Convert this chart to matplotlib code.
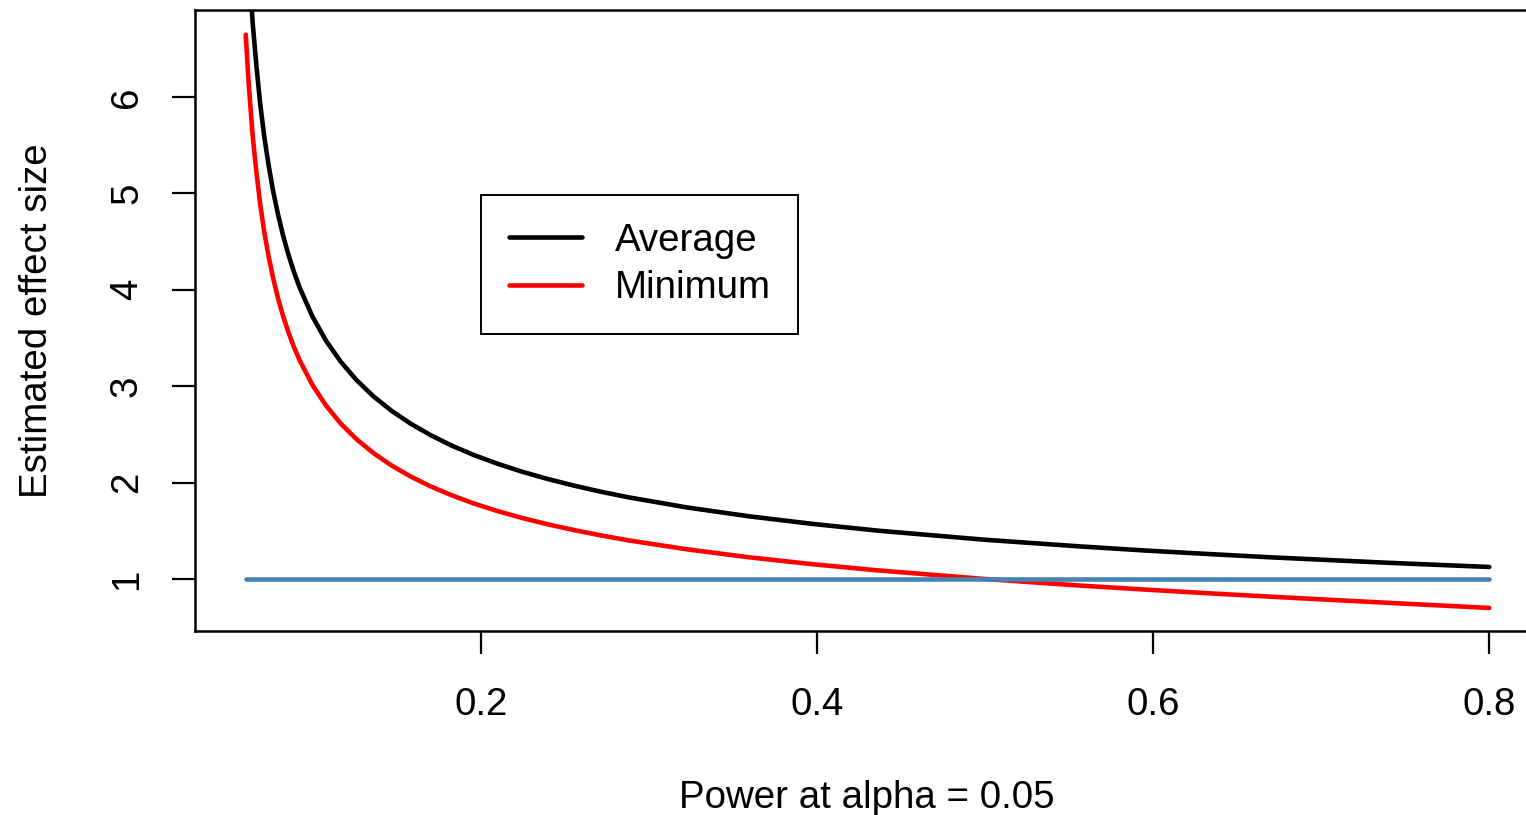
import matplotlib
matplotlib.use("Agg")
import matplotlib.pyplot as plt

# power at alpha = 0.05 and the two effect-size curves
power = [0.0600, 0.0611, 0.0618, 0.0641, 0.0663, 0.0685, 0.0709, 0.0735,
         0.0762, 0.0791, 0.0821, 0.0853, 0.0886, 0.0921, 0.0996, 0.1077,
         0.1165, 0.1259, 0.1360, 0.1467, 0.1581, 0.1701, 0.1827, 0.1960,
         0.2099, 0.2244, 0.2395, 0.2552, 0.2714, 0.2881, 0.3230, 0.3596,
         0.3976, 0.4365, 0.5000, 0.5557, 0.5948, 0.6331, 0.6700, 0.7054,
         0.7389, 0.7704, 0.8000]
average = [8.004, 7.624, 7.391, 6.770, 6.329, 5.943, 5.603, 5.301,
           5.031, 4.788, 4.569, 4.369, 4.188, 4.021, 3.725, 3.473,
           3.254, 3.063, 2.894, 2.745, 2.611, 2.491, 2.382, 2.284,
           2.195, 2.113, 2.038, 1.969, 1.905, 1.846, 1.741, 1.650,
           1.571, 1.501, 1.407, 1.339, 1.296, 1.259, 1.225, 1.196,
           1.169, 1.146, 1.125]
minimum = [6.644, 6.323, 6.125, 5.600, 5.227, 4.900, 4.612, 4.356,
           4.126, 3.920, 3.733, 3.564, 3.409, 3.267, 3.015, 2.800,
           2.613, 2.450, 2.306, 2.178, 2.063, 1.960, 1.867, 1.782,
           1.704, 1.633, 1.568, 1.508, 1.452, 1.400, 1.307, 1.225,
           1.153, 1.089, 1.000, 0.933, 0.891, 0.852, 0.817, 0.784,
           0.754, 0.726, 0.700]
true_effect = [1.0, 1.0]
true_x = [0.06, 0.80]

xticks = [0.2, 0.4, 0.6, 0.8]
yticks = [1, 2, 3, 4, 5, 6]

plt.rcParams['font.family'] = ['Liberation Sans', 'DejaVu Sans']
FS = 27.7

W, H = 1526, 815
fig = plt.figure(figsize=(W / 100, H / 100), dpi=100)
# axes box runs off the right edge of the picture, as in the reference
ax = fig.add_axes([195 / W, (H - 631) / H, (1539 - 195) / W, 621 / H])

ax.plot(power, average, color='black', lw=3.3, solid_capstyle='round',
        solid_joinstyle='round', label='Average')
ax.plot(power, minimum, color='red', lw=3.3, solid_capstyle='round',
        solid_joinstyle='round', label='Minimum')
ax.plot(true_x, true_effect, color='steelblue', lw=3.3, solid_capstyle='round')

ax.set_xlim(0.0298, 0.8296)
ax.set_ylim(0.461, 6.90)
ax.set_xticks(xticks)
ax.set_xticklabels([str(t) for t in xticks])
ax.set_yticks(yticks)
ax.set_yticklabels([str(t) for t in yticks], rotation=90, va='center')

ax.tick_params(axis='both', length=16.5, width=1.6, labelsize=FS, direction='out')
ax.tick_params(axis='x', pad=23.5)
ax.tick_params(axis='y', pad=19.5)
for s in ax.spines.values():
    s.set_linewidth(1.8)

ax.set_xlabel("Power at alpha = 0.05", fontsize=FS, labelpad=41)
ax.set_ylabel("Estimated effect size", fontsize=FS, labelpad=39)

leg = ax.legend(loc='upper left', bbox_to_anchor=(481 / W, 1 - 195 / H),
                bbox_transform=fig.transFigure, borderaxespad=0,
                fontsize=FS, frameon=True, fancybox=False, framealpha=1,
                edgecolor='black', handlelength=1.9, handletextpad=0.85,
                borderpad=0.72, labelspacing=0.30)
leg.get_frame().set_linewidth(1.4)
for line in leg.get_lines():
    line.set_linewidth(3.3)
    line.set_solid_capstyle('round')

fig.savefig("out.png", dpi=100)
